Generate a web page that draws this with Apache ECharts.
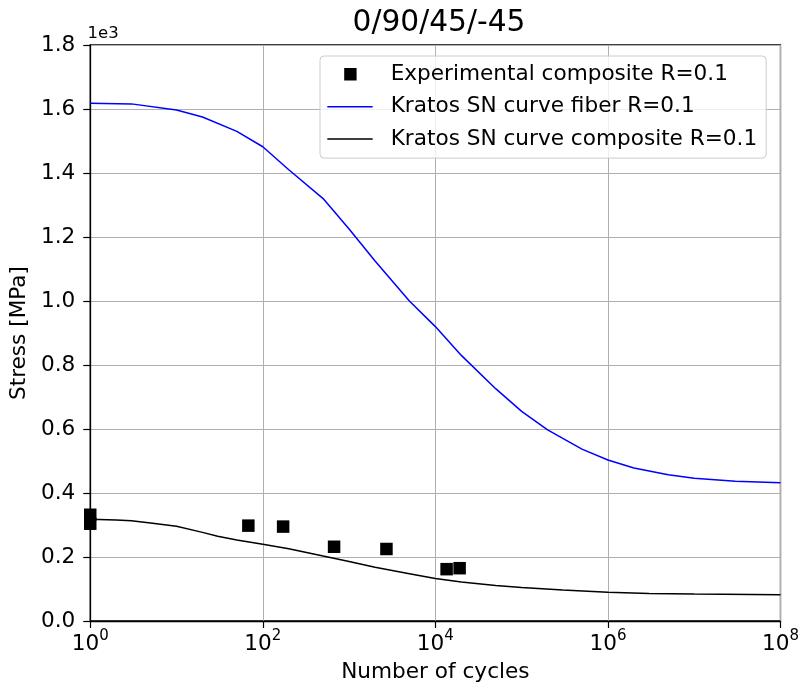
<!DOCTYPE html>
<html>
<head>
<meta charset="utf-8">
<script src="https://cdn.jsdelivr.net/npm/echarts@6/dist/echarts.min.js"></script>
<style>html,body{margin:0;padding:0;background:#fff}#c{width:802px;height:689px}</style>
</head>
<body>
<div id="c"></div>
<script>
// Experimental points (cycles, stress MPa)
var expCycles = [1, 1, 68, 172, 670, 2710, 13500, 19100];
var expStress = [332, 304, 298, 295, 232, 225, 162, 165];

// Kratos SN curve fiber R=0.1
var fiberCycles = [1, 3, 10, 20, 50, 100, 200, 500, 1000, 2000, 5000, 10000, 20000, 50000, 1e5, 2e5, 5e5, 1e6, 2e6, 5e6, 1e7, 3e7, 1e8];
var fiberStress = [1618, 1616, 1597, 1575, 1530, 1482, 1410, 1320, 1225, 1125, 1000, 920, 830, 726, 655, 597, 537, 503, 478, 457, 446, 437, 432];

// Kratos SN curve composite R=0.1
var compCycles = [1, 2, 3, 5, 10, 20, 30, 50, 100, 200, 500, 1000, 2000, 5000, 10000, 20000, 50000, 1e5, 3e5, 1e6, 3e6, 1e7, 1e8];
var compStress = [318, 316, 313, 306, 296, 277, 265, 253, 240, 226, 203, 186, 168, 148, 133, 122, 111, 105, 97, 90, 86, 84, 82];

var yTicks = [0, 200, 400, 600, 800, 1000, 1200, 1400, 1600, 1800];

function zip(a, b) { return a.map(function (v, i) { return [v, b[i]]; }); }

var FONT = 'DejaVu Sans';
var FS = 21.6;
var lineIcon = 'path://M0,5.45h45.4v1.5h-45.4zM0,0L0.001,0M0,12.4L0.001,12.4';
var sqIcon = 'path://M0,0L0.001,0M0,12.4L0.001,12.4M16.9,0h12.4v12.4h-12.4zM45.4,0L45.401,0';
var chart = echarts.init(document.getElementById('c'), null, {renderer: 'canvas'});
chart.setOption({
  animation: false,
  backgroundColor: '#fff',
  textStyle: {fontFamily: FONT},
  title: [
    {text: '0/90/45/-45', left: 434, top: 3, textAlign: 'center', padding: 5,
     textStyle: {fontFamily: FONT, fontSize: 29.7, fontWeight: 'normal', color: '#000'}},
    {text: '1e3', left: 82.5, top: 20.5, padding: 5,
     textStyle: {fontFamily: FONT, fontSize: 16.5, fontWeight: 'normal', color: '#000'}}
  ],
  grid: {left: 88, right: 21, top: 45, bottom: 68, show: true, borderColor: '#000', borderWidth: 1.3, backgroundColor: 'transparent'},
  legend: {
    left: 320, top: 56, orient: 'vertical',
    padding: [7.3, 9, 8, 7.3],
    itemWidth: 45.4, itemHeight: 12.4, itemGap: 10.4,
    backgroundColor: 'rgba(255,255,255,0.8)',
    borderColor: '#cccccc', borderWidth: 1, borderRadius: 4,
    textStyle: {fontFamily: FONT, fontSize: FS, color: '#000', padding: [0, 0, 0, 13], lineHeight: 22},
    data: [
      {name: 'Experimental composite R=0.1', icon: sqIcon},
      {name: 'Kratos SN curve fiber R=0.1', icon: lineIcon},
      {name: 'Kratos SN curve composite R=0.1', icon: lineIcon}
    ]
  },
  xAxis: {
    type: 'log', logBase: 10, min: 1, max: 1e8, interval: 2,
    name: 'Number of cycles', nameLocation: 'middle', nameGap: 40,
    nameTextStyle: {fontFamily: FONT, fontSize: FS, color: '#000'},
    axisLine: {show: true, lineStyle: {color: '#000', width: 1.3}},
    axisTick: {show: true, length: 7, lineStyle: {color: '#000', width: 1.2}},
    minorTick: {show: false},
    splitLine: {show: true, lineStyle: {color: '#b0b0b0', width: 1}},
    axisLabel: {
      margin: 8,
      formatter: function (v) {
        var e = Math.round(Math.log10(v));
        return '{b|10}{s|' + e + '}';
      },
      rich: {
        b: {fontFamily: FONT, fontSize: FS, color: '#000', lineHeight: 26, verticalAlign: 'bottom'},
        s: {fontFamily: FONT, fontSize: 15, color: '#000', lineHeight: 15, verticalAlign: 'top'}
      }
    }
  },
  yAxis: {
    type: 'value', min: yTicks[0], max: yTicks[yTicks.length - 1], interval: 200,
    name: 'Stress [MPa]', nameLocation: 'middle', nameGap: 53,
    nameTextStyle: {fontFamily: FONT, fontSize: FS, color: '#000'},
    axisLine: {show: true, lineStyle: {color: '#000', width: 1.3}},
    axisTick: {show: true, length: 7, lineStyle: {color: '#000', width: 1.2}},
    splitLine: {show: true, lineStyle: {color: '#b0b0b0', width: 1}},
    axisLabel: {
      margin: 15, fontFamily: FONT, fontSize: FS, color: '#000',
      formatter: function (v) { return (v / 1000).toFixed(1); }
    }
  },
  series: [
    {
      name: 'Experimental composite R=0.1', type: 'scatter',
      symbol: 'rect', symbolSize: 12.5,
      itemStyle: {color: '#000', opacity: 1},
      data: zip(expCycles, expStress), z: 2
    },
    {
      name: 'Kratos SN curve fiber R=0.1', type: 'line',
      showSymbol: false, symbol: 'none',
      lineStyle: {color: '#0000ff', width: 1.5}, itemStyle: {color: '#0000ff'},
      data: zip(fiberCycles, fiberStress), z: 3
    },
    {
      name: 'Kratos SN curve composite R=0.1', type: 'line',
      showSymbol: false, symbol: 'none',
      lineStyle: {color: '#000', width: 1.5}, itemStyle: {color: '#000'},
      data: zip(compCycles, compStress), z: 3
    }
  ]
});
</script>
</body>
</html>
